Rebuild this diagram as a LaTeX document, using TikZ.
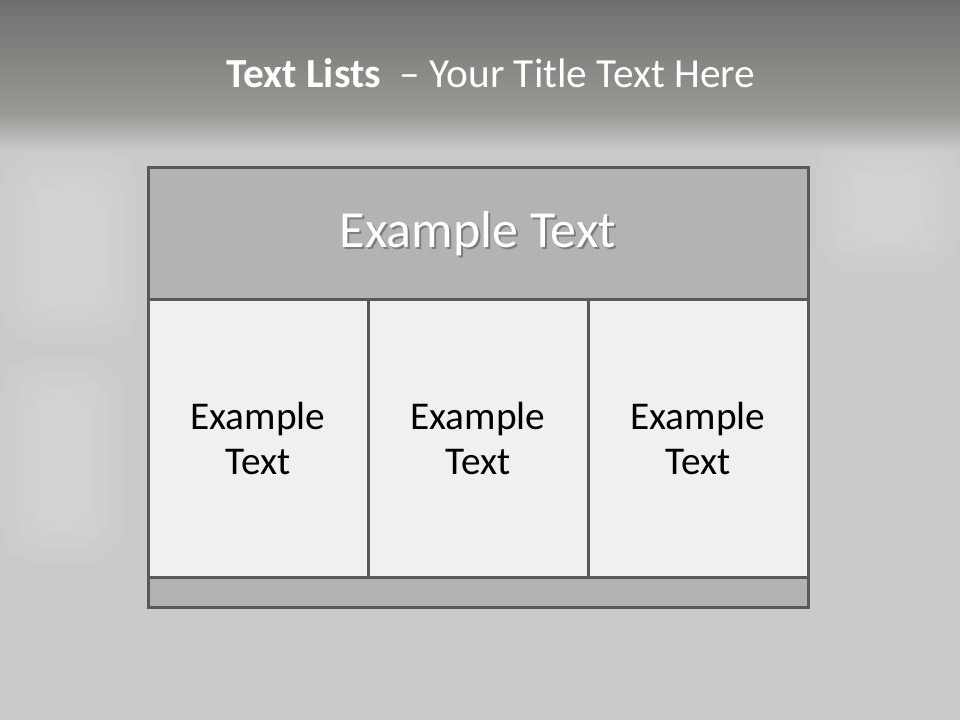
\documentclass[tikz,border=0pt]{standalone}
\usepackage{fontspec}
\setmainfont{Carlito}
\usetikzlibrary{positioning}
\definecolor{tlframe}{RGB}{89,89,89}
\definecolor{tlhead}{RGB}{180,179,177}
\definecolor{tlcell}{RGB}{240,240,240}
\definecolor{tlfoot}{RGB}{179,178,176}
\definecolor{tlbg}{RGB}{202,202,202}
\definecolor{tltop}{RGB}{112,111,109}
\definecolor{tlband}{RGB}{153,152,148}
\definecolor{tlshadow}{RGB}{90,90,90}
\tikzset{
  tlbox/.style={draw=tlframe, line width=2.25pt, outer sep=0pt, inner sep=0pt, align=center},
  tlheadbox/.style={tlbox, fill=tlhead, minimum width=495pt, minimum height=99pt},
  tlcellbox/.style={tlbox, fill=tlcell, minimum width=165pt, minimum height=207.75pt,
    font=\fontsize{29.5}{34}\selectfont},
  tlfootbox/.style={tlbox, fill=tlfoot, minimum width=495pt, minimum height=22.5pt},
  tlheadtext/.style={text=white, font=\fontsize{39}{46}\selectfont},
  tlpatch/.style={fill=white, fill opacity=.035, rounded corners=25pt}
}

\begin{document}
\begin{tikzpicture}[x=0.75pt, y=-0.75pt]
  \useasboundingbox (0,0) rectangle (960,720);
  % background
  \fill[tlbg] (0,0) rectangle (960,720);
  \foreach \d in {0,5,...,35} {
    \fill[tlpatch] (0+\d,150+\d) rectangle (140-\d,345-\d);
    \fill[tlpatch] (0+\d,355+\d) rectangle (125-\d,565-\d);
    \fill[tlpatch] (815+\d,135+\d) rectangle (960-\d,275-\d);
  }
  \shade[top color=tltop, bottom color=tlband] (0,0) rectangle (960,112);
  \shade[top color=tlband, bottom color=tlbg] (0,112) rectangle (960,150);
  % title
  \node[text=white, anchor=base, font=\fontsize{31}{36}\selectfont] (title) at (491,88)
    {\bfseries Text Lists\ \ \mdseries -- Your Title Text Here};
  % table
  \node[tlheadbox] (head) at (478,234) {};
  \node[tlcellbox, below right=0pt and 0pt of head.south west] (cella) {Example\\Text};
  \node[tlcellbox, right=0pt of cella] (cellb) {Example\\Text};
  \node[tlcellbox, right=0pt of cellb] (cellc) {Example\\Text};
  \node[tlfootbox, below right=0pt and 0pt of cella.south west] (foot) {};
  \node[tlheadtext, text=tlshadow, opacity=.6] at ([shift={(2,2)}]head.center) {Example Text};
  \node[tlheadtext] (headtext) at (head.center) {Example Text};
\end{tikzpicture}
\end{document}
